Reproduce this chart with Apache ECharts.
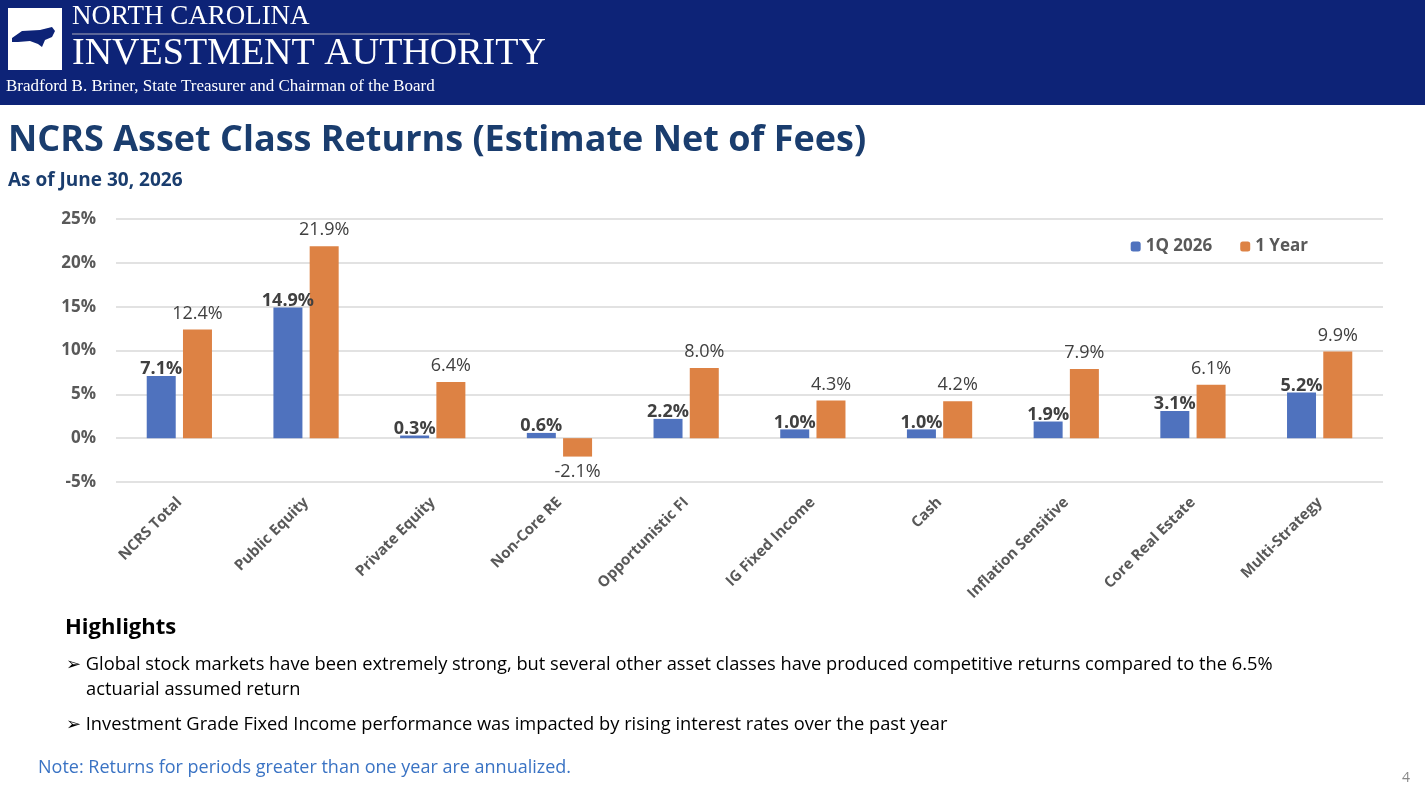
<!DOCTYPE html>
<html><head><meta charset="utf-8">
<script src="https://cdn.jsdelivr.net/npm/echarts@6/dist/echarts.min.js"></script>
<style>html,body{margin:0;padding:0;background:#fff}#c{width:1425px;height:796px}</style>
</head><body><div id="c"></div>
<script>
var categories=['NCRS Total','Public Equity','Private Equity','Non-Core RE','Opportunistic FI','IG Fixed Income','Cash','Inflation Sensitive','Core Real Estate','Multi-Strategy'];
var q1=[7.1,14.9,0.3,0.6,2.2,1.0,1.0,1.9,3.1,5.2];
var oneYear=[12.4,21.9,6.4,-2.1,8.0,4.3,4.2,7.9,6.1,9.9];
var yTicks=[-5,0,5,10,15,20,25];
var F='"Open Sans","Noto Sans",sans-serif';
function fmt(p){return p.value.toFixed(1)+'%';}
var oneYearData=oneYear.map(function(v){return v<0?{value:v,label:{position:'bottom',distance:6}}:v;});
var chart=echarts.init(document.getElementById('c'));
chart.setOption({
  animation:false,
  textStyle:{fontFamily:F},
  grid:{left:116,right:42,top:219,bottom:314,containLabel:false},
  legend:{top:233,right:112,itemWidth:10,itemHeight:10,itemGap:28,textStyle:{fontSize:17,fontWeight:'bold',color:'#595959',fontFamily:F},data:['1Q 2026','1 Year']},
  xAxis:{type:'category',data:categories,axisLine:{show:false},axisTick:{show:false},
    axisLabel:{rotate:45,interval:0,fontSize:15,fontWeight:'bold',color:'#595959',margin:18,fontFamily:F}},
  yAxis:{type:'value',min:yTicks[0],max:yTicks[yTicks.length-1],interval:5,
    axisLabel:{formatter:'{value}%',fontSize:17,fontWeight:'bold',color:'#595959',margin:20,fontFamily:F},
    splitLine:{lineStyle:{color:'#d9d9d9',width:1.5}},axisLine:{show:false},axisTick:{show:false}},
  series:[
    {name:'1Q 2026',type:'bar',data:q1,barWidth:29,barGap:'25%',itemStyle:{color:'#4f72be'},
      label:{show:true,position:'top',distance:-2,formatter:fmt,fontSize:18,fontWeight:'bold',color:'#404040',fontFamily:F}},
    {name:'1 Year',type:'bar',data:oneYearData,barWidth:29,itemStyle:{color:'#dd8244'},
      label:{show:true,position:'top',distance:7,formatter:fmt,fontSize:18,color:'#404040',fontFamily:F}}
  ],
  graphic:[
    {type:'rect',left:0,top:0,shape:{width:1425,height:105},style:{fill:'#0d2377'}},
    {type:'rect',left:8,top:8,shape:{width:54,height:62},style:{fill:'#fff'}},
    {type:'polygon',shape:{points:[[12,38],[22,31],[40,30],[52,27],[55,31],[52,37],[45,40],[42,47],[38,44],[30,41],[18,42],[12,42]]},style:{fill:'#0d2377'}},
    {type:'text',left:72,top:3,style:{text:'NORTH CAROLINA',fill:'#fff',font:'27px "Liberation Serif",serif'}},
    {type:'line',shape:{x1:72,y1:34,x2:470,y2:34},style:{stroke:'#aab',lineWidth:1}},
    {type:'text',left:72,top:35,style:{text:'INVESTMENT AUTHORITY',fill:'#fff',font:'38px "Liberation Serif",serif'}},
    {type:'text',left:6,top:78,style:{text:'Bradford B. Briner, State Treasurer and Chairman of the Board',fill:'#fff',font:'17px "Liberation Serif",serif'}},
    {type:'text',left:8,top:123,style:{text:'NCRS Asset Class Returns (Estimate Net of Fees)',fill:'#1a3d6e',font:'bold 36px '+F}},
    {type:'text',left:8,top:171,style:{text:'As of June 30, 2026',fill:'#1a3d6e',font:'bold 19px '+F}},
    {type:'text',left:65,top:617,style:{text:'Highlights',fill:'#000',font:'bold 22px '+F}},
    {type:'text',left:66,top:656,style:{text:'\u27A2 Global stock markets have been extremely strong, but several other asset classes have produced competitive returns compared to the 6.5%',fill:'#000',font:'18.3px '+F}},
    {type:'text',left:86,top:681,style:{text:'actuarial assumed return',fill:'#000',font:'18.3px '+F}},
    {type:'text',left:66,top:716,style:{text:'\u27A2 Investment Grade Fixed Income performance was impacted by rising interest rates over the past year',fill:'#000',font:'18.3px '+F}},
    {type:'text',left:38,top:759,style:{text:'Note: Returns for periods greater than one year are annualized.',fill:'#3a73c4',font:'18px '+F}},
    {type:'text',left:1402,top:771,style:{text:'4',fill:'#888',font:'14px '+F}}
  ]
});
</script></body></html>
